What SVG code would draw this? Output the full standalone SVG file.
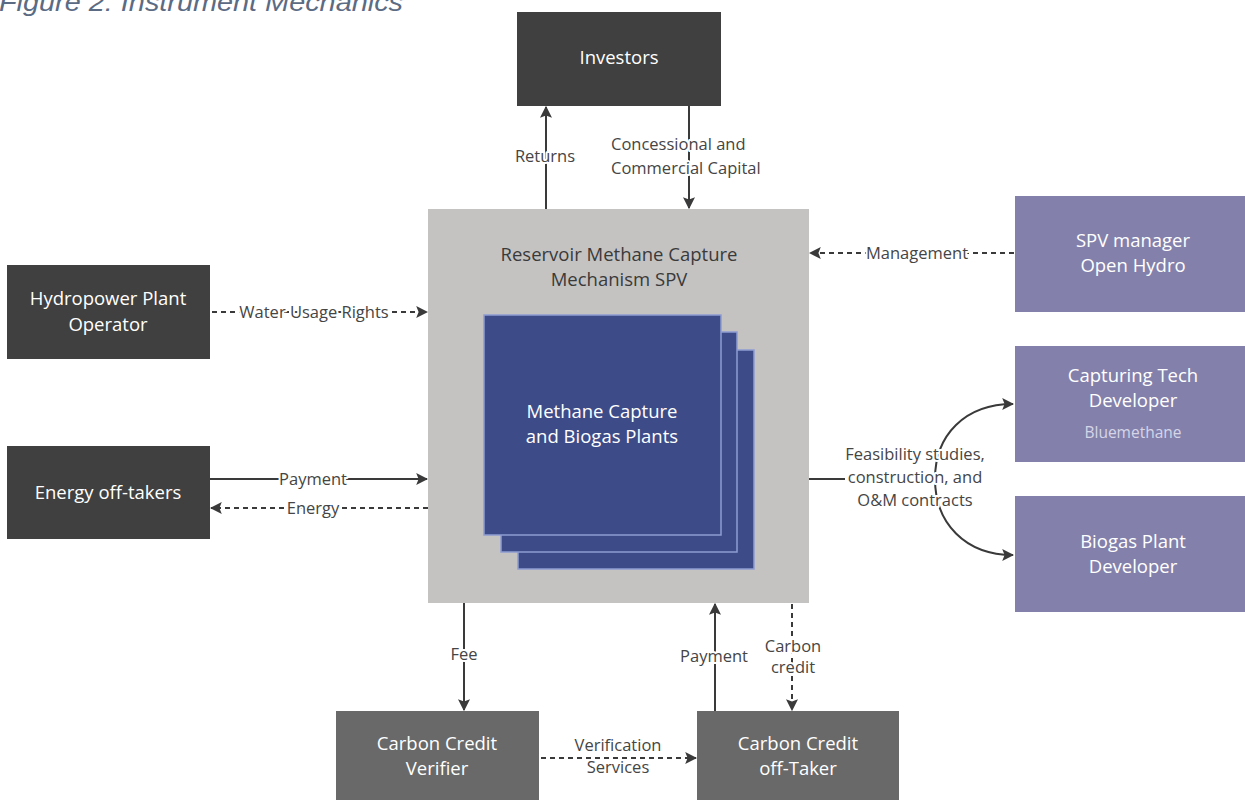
<svg xmlns="http://www.w3.org/2000/svg" width="1245" height="800" viewBox="0 0 1245 800">
<style>
.t{font-family:"Open Sans","Liberation Sans",sans-serif;text-anchor:middle}
.nw{fill:#ffffff;font-size:18.5px}
.nd{fill:#3a3a3a;font-size:18.5px}
.lb{fill:#454545;font-size:16.5px;stroke:#ffffff;stroke-width:4px;paint-order:stroke;stroke-linejoin:round}
.dark{fill:#404040}
.grey{fill:#696969}
.purp{fill:#8381ab}
.blue{fill:#3d4c88;stroke:#8e9cd2;stroke-width:1.5}
.ln{fill:none;stroke:#3a3a3a;stroke-width:2}
.ds{fill:none;stroke:#3a3a3a;stroke-width:2;stroke-dasharray:5 4}
</style>
<defs>
<marker id="ah" viewBox="0 0 10 10" refX="9" refY="5" markerWidth="6" markerHeight="6" orient="auto" markerUnits="strokeWidth">
<path d="M0,0 L10,5 L0,10 L2,5 z" fill="#3a3a3a"/>
</marker>
</defs>
<rect width="1245" height="800" fill="#ffffff"/>
<text x="-1" y="11" font-family="Liberation Sans,sans-serif" font-style="italic" font-size="25" fill="#5b6b84" textLength="404" lengthAdjust="spacingAndGlyphs">Figure 2: Instrument Mechanics</text>

<g id="spv">
<rect x="428" y="209" width="381" height="394" fill="#c4c3c2"/>
<text class="t nd" x="619" y="261">Reservoir Methane Capture</text>
<text class="t nd" x="619" y="286">Mechanism SPV</text>
</g>
<g id="plants">
<rect class="blue" x="518" y="350" width="236" height="219"/>
<rect class="blue" x="501" y="332" width="236" height="220"/>
<rect class="blue" x="484" y="315" width="237" height="220"/>
<text class="t nw" x="602" y="418">Methane Capture</text>
<text class="t nw" x="602" y="443">and Biogas Plants</text>
</g>
<g id="investors">
<rect class="dark" x="517" y="12" width="204" height="94"/>
<text class="t nw" x="619" y="64">Investors</text>
</g>
<g id="hydropower">
<rect class="dark" x="7" y="265" width="203" height="94"/>
<text class="t nw" x="108" y="305">Hydropower Plant</text>
<text class="t nw" x="108" y="331">Operator</text>
</g>
<g id="energy">
<rect class="dark" x="7" y="446" width="203" height="93"/>
<text class="t nw" x="108" y="499">Energy off-takers</text>
</g>
<g id="spvmanager">
<rect class="purp" x="1015" y="196" width="230" height="116"/>
<text class="t nw" x="1133" y="247">SPV manager</text>
<text class="t nw" x="1133" y="272">Open Hydro</text>
</g>
<g id="captech">
<rect class="purp" x="1015" y="346" width="230" height="116"/>
<text class="t nw" x="1133" y="382">Capturing Tech</text>
<text class="t nw" x="1133" y="407">Developer</text>
<text class="t" x="1133" y="438" fill="#d6d5e8" font-size="15.5">Bluemethane</text>
</g>
<g id="biogas">
<rect class="purp" x="1015" y="496" width="230" height="116"/>
<text class="t nw" x="1133" y="548">Biogas Plant</text>
<text class="t nw" x="1133" y="573">Developer</text>
</g>
<g id="verifier">
<rect class="grey" x="336" y="711" width="203" height="89"/>
<text class="t nw" x="437" y="750">Carbon Credit</text>
<text class="t nw" x="437" y="775">Verifier</text>
</g>
<g id="offtaker">
<rect class="grey" x="697" y="711" width="202" height="89"/>
<text class="t nw" x="798" y="750">Carbon Credit</text>
<text class="t nw" x="798" y="775">off-Taker</text>
</g>

<g id="connectors">
<line class="ln" x1="546" y1="209" x2="546" y2="107" marker-end="url(#ah)"/>
<text class="t lb" x="545" y="162">Returns</text>
<line class="ln" x1="689" y1="106" x2="689" y2="208" marker-end="url(#ah)"/>
<text class="t lb" x="611" y="150" style="text-anchor:start">Concessional and</text>
<text class="t lb" x="611" y="174" style="text-anchor:start">Commercial Capital</text>

<line class="ds" x1="212" y1="312" x2="427" y2="312" marker-end="url(#ah)"/>
<text class="t lb" x="314" y="318">Water Usage Rights</text>

<line class="ln" x1="210" y1="479" x2="427" y2="479" marker-end="url(#ah)"/>
<text class="t lb" x="313" y="485">Payment</text>
<line class="ds" x1="428" y1="508" x2="211" y2="508" marker-end="url(#ah)"/>
<text class="t lb" x="313" y="514">Energy</text>

<line class="ds" x1="1014" y1="253" x2="810" y2="253" marker-end="url(#ah)"/>
<text class="t lb" x="917" y="259">Management</text>

<line class="ln" x1="809" y1="479" x2="845" y2="479"/>
<path class="ln" d="M935,479 C935,435 965,404 1013,404" marker-end="url(#ah)"/>
<path class="ln" d="M935,479 C935,523 965,555 1013,555" marker-end="url(#ah)"/>
<text class="t lb" x="915" y="460">Feasibility studies,</text>
<text class="t lb" x="915" y="483">construction, and</text>
<text class="t lb" x="915" y="506">O&amp;M contracts</text>

<line class="ln" x1="464" y1="603" x2="464" y2="710" marker-end="url(#ah)"/>
<text class="t lb" x="464" y="660">Fee</text>
<line class="ln" x1="715" y1="711" x2="715" y2="604" marker-end="url(#ah)"/>
<text class="t lb" x="714" y="662">Payment</text>
<line class="ds" x1="792" y1="604" x2="792" y2="710" marker-end="url(#ah)"/>
<text class="t lb" x="793" y="652">Carbon</text>
<text class="t lb" x="793" y="673">credit</text>

<line class="ds" x1="541" y1="758" x2="696" y2="758" marker-end="url(#ah)"/>
<text class="t lb" x="618" y="751">Verification</text>
<text class="t lb" x="618" y="773">Services</text>
</g>
</svg>
